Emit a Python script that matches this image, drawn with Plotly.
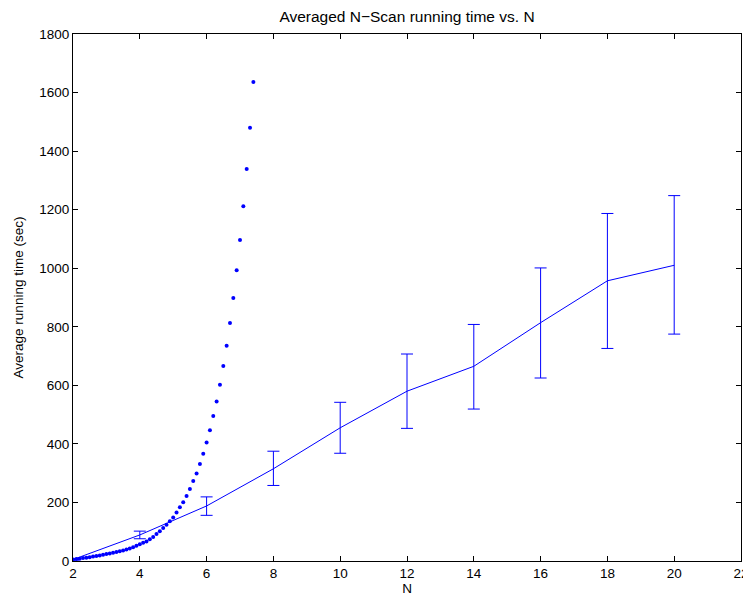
import plotly.graph_objects as go

# Measured averages with error bars
n_vals = [2, 4, 6, 8, 10, 12, 14, 16, 18, 20]
mean_time = [5, 89, 188, 315, 455, 580, 665, 814, 957, 1010]
upper_time = [7, 102, 219, 375, 542, 707, 808, 1001, 1187, 1248]
lower_time = [3, 76, 156, 258, 368, 453, 519, 625, 726, 775]

# Dotted (predicted) curve
curve_n = [2.0, 2.1, 2.2, 2.3, 2.4, 2.5, 2.6, 2.7, 2.8, 2.9,
           3.0, 3.1, 3.2, 3.3, 3.4, 3.5, 3.6, 3.7, 3.8, 3.9,
           4.0, 4.1, 4.2, 4.3, 4.4, 4.5, 4.6, 4.7, 4.8, 4.9,
           5.0, 5.1, 5.2, 5.3, 5.4, 5.5, 5.6, 5.7, 5.8, 5.9,
           6.0, 6.1, 6.2, 6.3, 6.4, 6.5, 6.6, 6.7, 6.8, 6.9,
           7.0, 7.1, 7.2, 7.3, 7.4]
curve_time = [5, 7, 8, 10, 11, 13, 15, 17, 19, 21,
              24, 26, 28, 31, 33, 36, 39, 43, 47, 52,
              57, 62, 67, 74, 82, 92, 102, 113, 124, 136,
              149, 166, 184, 201, 222, 246, 273, 299, 331, 366,
              405, 447, 495, 545, 602, 666, 735, 813, 898, 993,
              1096, 1212, 1339, 1480, 1636]

x_ticks = [2, 4, 6, 8, 10, 12, 14, 16, 18, 20, 22]
y_ticks = [0, 200, 400, 600, 800, 1000, 1200, 1400, 1600, 1800]

blue = "rgb(0,0,255)"
err_plus = [u - m for u, m in zip(upper_time, mean_time)]
err_minus = [m - l for m, l in zip(mean_time, lower_time)]

fig = go.Figure()
fig.add_trace(go.Scatter(
    x=n_vals, y=mean_time, mode="lines",
    line=dict(color=blue, width=1),
    error_y=dict(type="data", symmetric=False, array=err_plus,
                 arrayminus=err_minus, color=blue, thickness=1, width=6),
    showlegend=False,
))
fig.add_trace(go.Scatter(
    x=curve_n, y=curve_time, mode="markers",
    marker=dict(color=blue, size=4),
    showlegend=False,
))

font = dict(family="Liberation Sans, Arial, sans-serif", size=13.5, color="black")
title_font = dict(family="Liberation Sans, Arial, sans-serif", size=15.5, color="black")
axis_common = dict(
    showline=True, linecolor="black", linewidth=1, mirror="ticks",
    ticks="inside", ticklen=5, tickcolor="black", showgrid=False,
    zeroline=False, tickfont=font, automargin=False,
    ticklabeloverflow="allow",
)
fig.update_layout(
    width=743, height=593,
    margin=dict(l=65, r=10, t=26, b=40),
    paper_bgcolor="white", plot_bgcolor="white",
    font=font,
    title=dict(text="Averaged N\u2212Scan running time vs. N", x=0.5, xanchor="center",
               xref="paper", yref="container", y=1 - 8.5 / 593, yanchor="middle",
               font=title_font),
    xaxis=dict(range=[2, 22], tickvals=x_ticks,
               title=dict(text="N", font=font, standoff=0), **axis_common),
    yaxis=dict(range=[0, 1800], tickvals=y_ticks,
               title=dict(text="Average running time (sec)", font=font, standoff=12),
               **axis_common),
)
fig.write_html("out.html")
